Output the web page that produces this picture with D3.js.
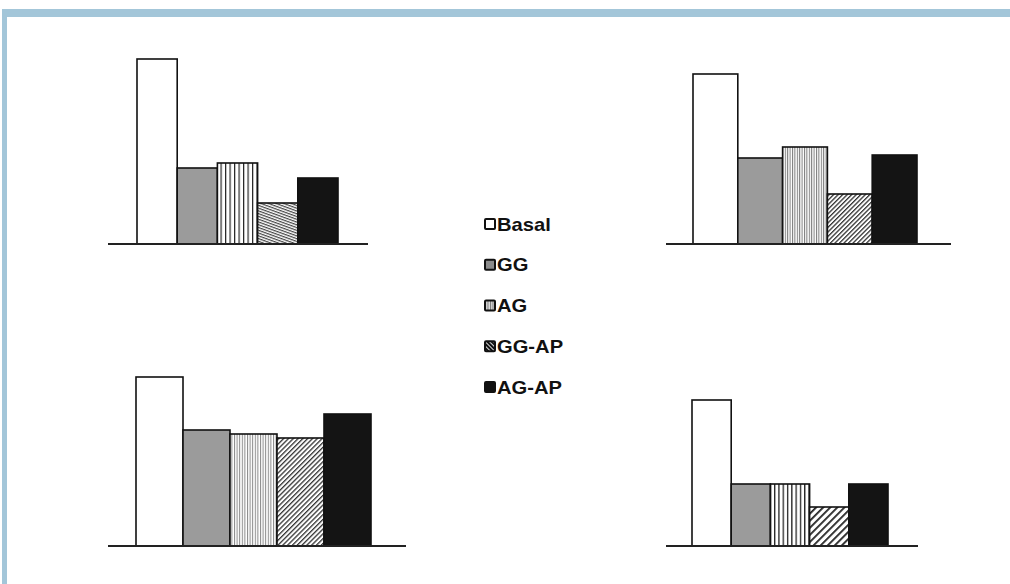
<!DOCTYPE html>
<html><head><meta charset="utf-8">
<script src="https://cdn.jsdelivr.net/npm/d3@7"></script>
<style>body{margin:0;background:#fff}svg{display:block}</style>
</head><body>
<script>
const categories = ["Basal", "GG", "AG", "GG-AP", "AG-AP"];
const panelA = [185, 76, 81, 41, 66];
const panelB = [170, 86, 97, 50, 89];
const panelC = [169, 116, 112, 108, 132];
const panelD = [146, 62, 62, 39, 62];
const legendLabels = ["Basal", "GG", "AG", "GG-AP", "AG-AP"];

const W = 1010, H = 584;
const svg = d3.select("body").append("svg").attr("width", W).attr("height", H);
const defs = svg.append("defs");

// frame
svg.append("rect").attr("x", 2).attr("y", 9).attr("width", W - 2).attr("height", 8).attr("fill", "#a3c6d9");
svg.append("rect").attr("x", 2).attr("y", 9).attr("width", 5).attr("height", H - 9).attr("fill", "#a3c6d9");

function vPattern(id, sp, col, lw) {
  const p = defs.append("pattern").attr("id", id).attr("patternUnits", "userSpaceOnUse")
    .attr("width", sp).attr("height", sp);
  p.append("rect").attr("width", sp).attr("height", sp).attr("fill", "#fff");
  p.append("rect").attr("x", 0).attr("y", 0).attr("width", lw).attr("height", sp).attr("fill", col);
}
function dPattern(id, sp, col, lw, angle) {
  const p = defs.append("pattern").attr("id", id).attr("patternUnits", "userSpaceOnUse")
    .attr("width", sp).attr("height", sp).attr("patternTransform", `rotate(${angle})`);
  p.append("rect").attr("width", sp).attr("height", sp).attr("fill", "#fff");
  p.append("rect").attr("x", 0).attr("y", 0).attr("width", sp).attr("height", lw).attr("fill", col);
}

const panels = [
  {id: "a", data: panelA, ax0: 108, ax1: 368, b0: 137, b1: 338, base: 244,
   v: [4.5, "#222", 1.2], d: [2.6, "#444", 1.2, 20]},
  {id: "b", data: panelB, ax0: 666, ax1: 951, b0: 693, b1: 917, base: 244,
   v: [2.4, "#777", 1], d: [3.2, "#333", 1.3, -45]},
  {id: "c", data: panelC, ax0: 108, ax1: 406, b0: 136, b1: 371, base: 546,
   v: [2.6, "#888", 1], d: [3.4, "#333", 1.3, -45]},
  {id: "d", data: panelD, ax0: 666, ax1: 918, b0: 692, b1: 888, base: 546,
   v: [4.3, "#222", 1.3], d: [5, "#222", 1.8, -45]}
];

panels.forEach(p => {
  vPattern("v" + p.id, ...p.v);
  dPattern("d" + p.id, ...p.d);
  const fills = ["#ffffff", "#9b9b9b", `url(#v${p.id})`, `url(#d${p.id})`, "#141414"];
  const x = d3.scaleBand().domain(categories).range([p.b0, p.b1]).padding(0);
  const y = d3.scaleLinear().domain([0, 200]).range([p.base, p.base - 200]);
  const g = svg.append("g");
  g.selectAll("rect").data(categories).join("rect")
    .attr("x", d => x(d)).attr("width", x.bandwidth())
    .attr("y", (d, i) => y(p.data[i])).attr("height", (d, i) => y(0) - y(p.data[i]))
    .attr("fill", (d, i) => fills[i]).attr("stroke", "#111").attr("stroke-width", 1.6);
  g.append("line").attr("x1", p.ax0).attr("x2", p.ax1).attr("y1", y(0)).attr("y2", y(0))
    .attr("stroke", "#222").attr("stroke-width", 2);
});

// legend patterns
const lp = defs.append("pattern").attr("id", "lgV").attr("patternUnits", "userSpaceOnUse")
  .attr("width", 2.5).attr("height", 2.5);
lp.append("rect").attr("width", 2.5).attr("height", 2.5).attr("fill", "#ddd");
lp.append("rect").attr("width", 1).attr("height", 2.5).attr("fill", "#777");
const ld = defs.append("pattern").attr("id", "lgD").attr("patternUnits", "userSpaceOnUse")
  .attr("width", 3).attr("height", 3).attr("patternTransform", "rotate(45)");
ld.append("rect").attr("width", 3).attr("height", 3).attr("fill", "#111");
ld.append("rect").attr("width", 3).attr("height", 1).attr("fill", "#ddd");

const legFills = ["#ffffff", "#8c8c8c", "url(#lgV)", "url(#lgD)", "#111"];
const ly = d3.scalePoint().domain(legendLabels).range([224, 387]);
const leg = svg.append("g");
legendLabels.forEach((lab, i) => {
  const cy = ly(lab);
  leg.append("rect").attr("x", 485).attr("y", cy - 5).attr("width", 10).attr("height", 10).attr("rx", 1)
    .attr("fill", legFills[i]).attr("stroke", "#111").attr("stroke-width", 2);
  leg.append("text").attr("transform", `translate(497,${cy + 6.5}) scale(1.12,1)`).text(lab)
    .attr("font-family", "Liberation Sans, Arial, sans-serif").attr("font-weight", "bold")
    .attr("font-size", 18).attr("fill", "#111");
});
</script>
</body></html>
